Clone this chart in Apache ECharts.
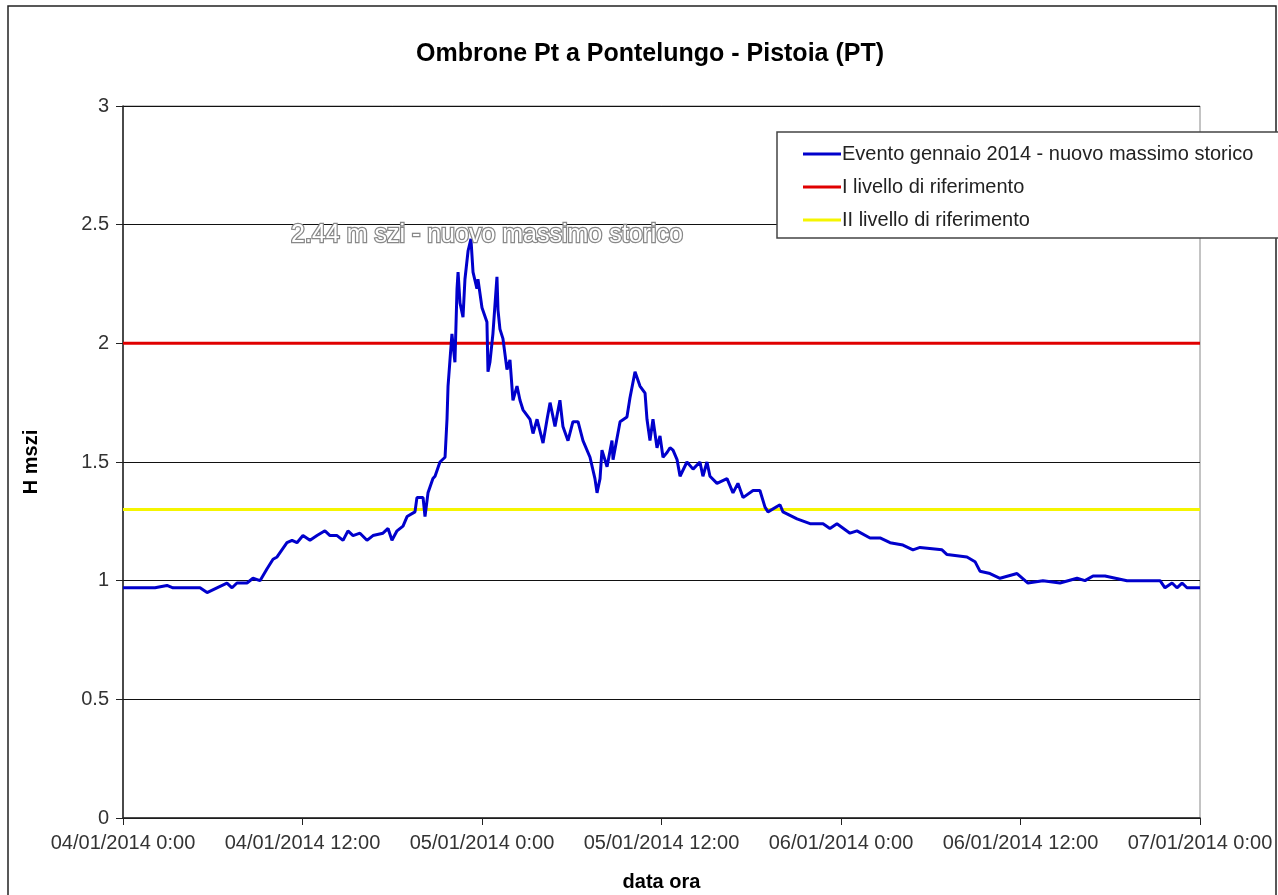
<!DOCTYPE html>
<html>
<head>
<meta charset="utf-8">
<script src="https://cdn.jsdelivr.net/npm/echarts@6/dist/echarts.min.js"></script>
<style>
  html, body { margin: 0; padding: 0; background: #fff; }
  #chart { width: 1278px; height: 895px; }
</style>
</head>
<body>
<div id="chart"></div>
<script>
// hours from 04/01/2014 0:00
const hours = [
  0.00, 0.47, 1.34, 2.14, 2.94, 3.34, 5.15, 5.62, 6.28, 6.95, 7.29, 7.62, 8.29, 8.69, 9.16, 9.63,
  10.03, 10.30, 10.96, 11.30, 11.63, 12.03, 12.50, 12.97, 13.50, 13.84, 14.31, 14.71, 15.04, 15.38,
  15.84, 16.31, 16.71, 17.38, 17.72, 17.98, 18.32, 18.72, 18.99, 19.52, 19.65, 20.06, 20.19, 20.39,
  20.72, 20.86, 21.19, 21.53, 21.66, 21.73, 21.86, 21.99, 22.19, 22.33, 22.40, 22.53, 22.73, 22.86,
  23.07, 23.26, 23.40, 23.66, 23.73, 24.00, 24.33, 24.40, 24.53, 24.73, 25.00, 25.07, 25.20, 25.40,
  25.67, 25.87, 26.07, 26.34, 26.54, 26.74, 27.21, 27.41, 27.68, 28.08, 28.35, 28.55, 28.88, 29.21,
  29.41, 29.75, 30.08, 30.42, 30.75, 31.22, 31.55, 31.69, 31.89, 32.02, 32.36, 32.69, 32.76, 33.23,
  33.69, 33.89, 34.23, 34.56, 34.90, 35.03, 35.23, 35.43, 35.70, 35.90, 36.10, 36.37, 36.57, 36.77,
  37.04, 37.24, 37.70, 38.11, 38.57, 38.77, 39.04, 39.24, 39.71, 40.38, 40.78, 41.11, 41.45, 42.12,
  42.58, 42.92, 43.12, 43.92, 44.12, 45.06, 45.93, 46.80, 47.26, 47.73, 48.60, 49.07, 49.94, 50.61,
  51.28, 52.14, 52.81, 53.28, 54.75, 55.09, 56.42, 56.96, 57.29, 57.96, 58.63, 59.77, 60.50, 61.50,
  62.64, 63.78, 64.31, 64.85, 65.65, 67.12, 69.33, 69.66, 70.13, 70.46, 70.80, 71.13, 72.00
];
const levels = [
  0.97, 0.97, 0.97, 0.97, 0.98, 0.97, 0.97, 0.95, 0.97, 0.99, 0.97, 0.99, 0.99, 1.01, 1.00, 1.05,
  1.09, 1.10, 1.16, 1.17, 1.16, 1.19, 1.17, 1.19, 1.21, 1.19, 1.19, 1.17, 1.21, 1.19,
  1.20, 1.17, 1.19, 1.20, 1.22, 1.17, 1.21, 1.23, 1.27, 1.29, 1.35, 1.35, 1.27, 1.37,
  1.43, 1.44, 1.50, 1.52, 1.68, 1.82, 1.93, 2.04, 1.92, 2.23, 2.30, 2.17, 2.11, 2.27,
  2.39, 2.44, 2.30, 2.23, 2.27, 2.15, 2.09, 1.88, 1.92, 2.04, 2.28, 2.14, 2.06, 2.02,
  1.89, 1.93, 1.76, 1.82, 1.76, 1.72, 1.68, 1.62, 1.68, 1.58, 1.68, 1.75, 1.65, 1.76,
  1.65, 1.59, 1.67, 1.67, 1.59, 1.52, 1.43, 1.37, 1.43, 1.55, 1.48, 1.59, 1.51, 1.67,
  1.69, 1.77, 1.88, 1.82, 1.79, 1.68, 1.59, 1.68, 1.56, 1.61, 1.52, 1.54, 1.56, 1.55,
  1.51, 1.44, 1.50, 1.47, 1.50, 1.44, 1.50, 1.44, 1.41, 1.43, 1.37, 1.41, 1.35, 1.38,
  1.38, 1.31, 1.29, 1.32, 1.29, 1.26, 1.24, 1.24, 1.22, 1.24, 1.20, 1.21, 1.18, 1.18,
  1.16, 1.15, 1.13, 1.14, 1.13, 1.11, 1.10, 1.08, 1.04, 1.03, 1.01, 1.03, 0.99, 1.00,
  0.99, 1.01, 1.00, 1.02, 1.02, 1.00, 1.00, 0.97, 0.99, 0.97, 0.99, 0.97, 0.97
];
const xTickLabels = [
  '04/01/2014 0:00', '04/01/2014 12:00', '05/01/2014 0:00', '05/01/2014 12:00',
  '06/01/2014 0:00', '06/01/2014 12:00', '07/01/2014 0:00'
];
const level1 = 2.0;
const level2 = 1.3;
const peakHour = 23.26;
const peakLevel = 2.44;

const chart = echarts.init(document.getElementById('chart'));
const font = '"Liberation Sans", Arial, sans-serif';

const option = {
  animation: false,
  textStyle: { fontFamily: font },
  title: {
    text: 'Ombrone Pt a Pontelungo - Pistoia (PT)',
    left: 645,
    textAlign: 'center',
    top: 37,
    textStyle: { fontSize: 25, fontWeight: 'bold', color: '#000', fontFamily: font }
  },
  graphic: [
    {
      type: 'rect',
      shape: { x: 8, y: 6, width: 1268, height: 900 },
      style: { fill: 'none', stroke: '#222', lineWidth: 1.5 },
      silent: true,
      z: 0
    },
    {
      type: 'rect',
      shape: { x: 777, y: 132, width: 510, height: 106 },
      style: { fill: '#fff', stroke: '#444', lineWidth: 1.5 },
      silent: true,
      z: 3
    }
  ],
  legend: {
    orient: 'vertical',
    left: 798,
    top: 139,
    z: 5,
    itemWidth: 38,
    itemHeight: 3,
    itemGap: 13,
    icon: 'rect',
    textStyle: { fontSize: 20, color: '#222', padding: [0, 0, 0, -4] },
    data: ['Evento gennaio 2014 - nuovo massimo storico', 'I livello di riferimento', 'II livello di riferimento']
  },
  grid: {
    left: 123, right: 78, top: 106, bottom: 77,
    outerBoundsMode: 'none',
    containLabel: false,
    show: true, borderColor: '#888', borderWidth: 1
  },
  xAxis: {
    type: 'value',
    min: 0, max: 72, interval: 12,
    name: 'data ora',
    nameLocation: 'middle',
    nameGap: 54,
    nameTextStyle: { fontSize: 20, fontWeight: 'bold', color: '#000' },
    axisLine: { lineStyle: { color: '#222', width: 1.5 } },
    axisTick: { show: true, length: 7, lineStyle: { color: '#222' } },
    axisLabel: {
      fontSize: 20, color: '#333', margin: 15,
      formatter: v => xTickLabels[Math.round(v / 12)]
    },
    splitLine: { show: false }
  },
  yAxis: {
    type: 'value',
    min: 0, max: 3, interval: 0.5,
    name: 'H mszi',
    nameLocation: 'middle',
    nameGap: 82,
    nameRotate: 90,
    nameTextStyle: { fontSize: 20, fontWeight: 'bold', color: '#000' },
    axisLine: { show: true, lineStyle: { color: '#222', width: 1.5 } },
    axisTick: { show: true, length: 7, lineStyle: { color: '#222' } },
    axisLabel: { fontSize: 20, color: '#333', margin: 14 },
    splitLine: { show: true, lineStyle: { color: '#111', width: 1.2 } }
  },
  series: [
    {
      name: 'Evento gennaio 2014 - nuovo massimo storico',
      type: 'line',
      showSymbol: false,
      symbol: 'none',
      z: 4,
      color: '#0000cc',
      lineStyle: { color: '#0000cc', width: 3 },
      data: hours.map((h, i) => [h, levels[i]]),
      markPoint: {
        symbol: 'circle',
        symbolSize: 0,
        silent: true,
        label: {
          show: true,
          position: 'inside',
          offset: [16, -4],
          formatter: '2.44 m szi - nuovo massimo storico',
          fontSize: 25,
          color: '#fff',
          textBorderColor: '#888',
          textBorderWidth: 2.5,
          fontFamily: font
        },
        data: [{ coord: [peakHour, peakLevel] }]
      }
    },
    {
      name: 'I livello di riferimento',
      type: 'line',
      symbol: 'none',
      z: 3,
      color: '#e00000',
      lineStyle: { color: '#e00000', width: 3 },
      data: [[0, level1], [72, level1]]
    },
    {
      name: 'II livello di riferimento',
      type: 'line',
      symbol: 'none',
      z: 3,
      color: '#f5f500',
      lineStyle: { color: '#f5f500', width: 3 },
      data: [[0, level2], [72, level2]]
    }
  ]
};

chart.setOption(option);
</script>
</body>
</html>
